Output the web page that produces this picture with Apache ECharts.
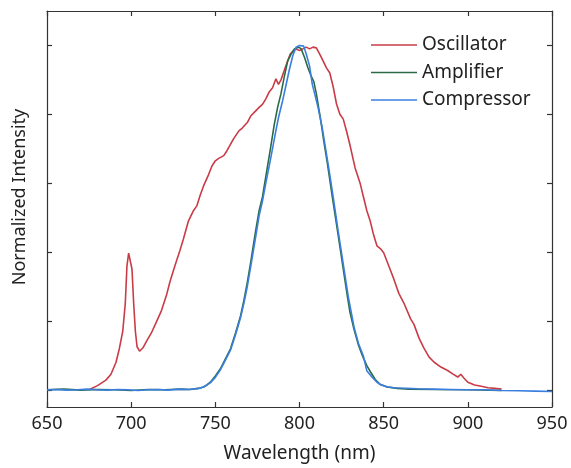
<!DOCTYPE html>
<html>
<head>
<meta charset="utf-8">
<script src="https://cdn.jsdelivr.net/npm/echarts@6/dist/echarts.min.js"></script>
<style>html,body{margin:0;padding:0;background:#fff;}#c{width:571px;height:468px;}</style>
</head>
<body>
<div id="c"></div>
<script>
// Oscillator
const oscX = [675,680,685,688,691,693,695,696.5,697.5,698.5,699.5,700.5,701.5,702.5,703.5,705,707,709,712,715,718,721,723,726,729,731,734,737,739,741,743,746,748,750,752,755,757,759,761,764,766,769,771,774,776,778,780,782,784,786,787.5,789,791.5,794.5,797.5,800,802,804,806,808,810,812,814,816,818,820,822,824,826,828,830,833,836,838,840,842,844,846,848,850,853,856,859,862,866,868,871,874,877,880,884,888,891,894,895.8,897.5,900,904,908,912,916,920];
const oscY = [0.0,0.012,0.028,0.045,0.08,0.12,0.17,0.25,0.36,0.397,0.395,0.35,0.25,0.17,0.125,0.112,0.122,0.14,0.165,0.197,0.23,0.275,0.313,0.36,0.405,0.437,0.49,0.52,0.534,0.565,0.592,0.625,0.65,0.665,0.672,0.68,0.695,0.713,0.73,0.752,0.76,0.776,0.795,0.81,0.82,0.829,0.845,0.865,0.877,0.903,0.887,0.9,0.935,0.975,0.99,0.985,0.99,0.995,0.99,0.995,0.993,0.975,0.955,0.935,0.92,0.88,0.83,0.8,0.786,0.75,0.71,0.645,0.6,0.56,0.52,0.49,0.45,0.418,0.41,0.398,0.36,0.322,0.28,0.252,0.206,0.19,0.15,0.12,0.095,0.08,0.066,0.056,0.046,0.037,0.045,0.035,0.022,0.014,0.01,0.006,0.004,0.002];
// Amplifier
const ampX = [650,660,670,680,690,700,710,720,730,735,740,743,745,747,750,753,756,759,762,765,767,769,771,773.8,776,778,780,782.7,785,787,789,791,793,795,797,799.5,801,803,805,807,808.5,810,812.5,814.5,816.5,819.4,822.4,825.4,828.4,830,832.3,835,837.3,840,842.3,845,848,852,858,865,880,900,920];
const ampY = [0.0,0.002,-0.001,0.001,0.0,-0.002,0.001,0.0,0.002,0.001,0.004,0.008,0.014,0.022,0.04,0.061,0.09,0.119,0.165,0.215,0.26,0.312,0.37,0.457,0.52,0.56,0.62,0.699,0.77,0.82,0.86,0.91,0.955,0.975,0.99,0.995,0.99,0.965,0.935,0.91,0.895,0.86,0.786,0.72,0.66,0.563,0.467,0.37,0.273,0.225,0.177,0.13,0.1,0.07,0.051,0.03,0.015,0.008,0.004,0.002,0.001,0.0,-0.002];
// Compressor
const cmpX = [650,656,662,668,674,680,686,692,698,704,710,716,722,728,734,740,743,747,750,753,756,759,762,765,767,769,771,774,776,778,780,783,785.5,787.5,790,792,794,796,798,800,802.5,804,806,807.6,809,811,813.5,815.5,817.5,820,823,826,829,832.5,835,838,840,843,846,848.2,852,856,860,870,880,890,900,910,920,930,940,950];
const cmpY = [0.0,0.001,-0.001,0.0,0.002,0.0,-0.001,0.001,0.0,-0.002,0.0,0.001,-0.001,0.002,0.001,0.004,0.008,0.02,0.036,0.058,0.086,0.115,0.16,0.21,0.252,0.3,0.357,0.445,0.505,0.548,0.6,0.675,0.74,0.79,0.84,0.885,0.93,0.97,0.995,1.0,0.998,0.975,0.94,0.887,0.86,0.82,0.761,0.7,0.64,0.56,0.46,0.365,0.27,0.18,0.135,0.097,0.055,0.037,0.022,0.015,0.009,0.006,0.005,0.003,0.002,0.001,0.0,0.0,-0.002,-0.003,-0.004,-0.005];
const xTicks = [650,700,750,800,850,900,950];
const yTicks = [0,0.2,0.4,0.6,0.8,1.0];

const zip = (xs, ys) => xs.map((x, i) => [x, ys[i]]);
const FONT = 'Noto Sans';
const AX = '#333';
const chart = echarts.init(document.getElementById('c'), null, {renderer: 'canvas'});
const xCommon = {
  type: 'value', min: 650, max: 950, interval: 50,
  axisLine: {show: true, onZero: false, lineStyle: {color: AX, width: 1.2}},
  axisTick: {show: true, inside: true, length: 5, lineStyle: {color: AX, width: 1.2}},
  splitLine: {show: false}
};
const yCommon = {
  type: 'value', min: -0.05, max: 1.1,
  axisLine: {show: true, onZero: false, lineStyle: {color: AX, width: 1.2}},
  axisTick: {show: true, inside: true, length: 5, customValues: yTicks, lineStyle: {color: AX, width: 1.2}},
  axisLabel: {show: false},
  splitLine: {show: false}
};
chart.setOption({
  animation: false,
  backgroundColor: '#fff',
  grid: {left: 47, right: 19, top: 11, bottom: 60, containLabel: false},
  legend: {
    orient: 'vertical', left: 371, top: 35, padding: 0,
    icon: 'rect', itemWidth: 46, itemHeight: 1.6, itemGap: 7.5,
    textStyle: {fontFamily: FONT, fontSize: 19, color: '#222', lineHeight: 20},
    data: ['Oscillator', 'Amplifier', 'Compressor']
  },
  xAxis: [
    Object.assign({}, xCommon, {
      position: 'bottom',
      axisLabel: {show: true, margin: 8, fontFamily: FONT, fontSize: 18, color: '#222', customValues: xTicks},
      name: 'Wavelength (nm)', nameLocation: 'middle', nameGap: 37,
      nameTextStyle: {fontFamily: FONT, fontSize: 19, color: '#222'}
    }),
    Object.assign({}, xCommon, {position: 'top', axisLabel: {show: false}})
  ],
  yAxis: [
    Object.assign({}, yCommon, {position: 'left'}),
    Object.assign({}, yCommon, {position: 'right'})
  ],
  graphic: [{
    type: 'text', x: 11, y: 197, rotation: Math.PI / 2,
    style: {text: 'Normalized Intensity', fontFamily: FONT, fontSize: 18, fill: '#222', align: 'center', verticalAlign: 'top'}
  }],
  series: [
    {name: 'Oscillator', type: 'line', data: zip(oscX, oscY), symbol: 'none', showSymbol: false,
     lineStyle: {color: '#c93c47', width: 1.6}, itemStyle: {color: '#c93c47'}, xAxisIndex: 0, yAxisIndex: 0},
    {name: 'Amplifier', type: 'line', data: zip(ampX, ampY), symbol: 'none', showSymbol: false,
     lineStyle: {color: '#2a6b45', width: 1.6}, itemStyle: {color: '#2a6b45'}, xAxisIndex: 0, yAxisIndex: 0},
    {name: 'Compressor', type: 'line', data: zip(cmpX, cmpY), symbol: 'none', showSymbol: false,
     lineStyle: {color: '#3a7fe0', width: 1.6}, itemStyle: {color: '#3a7fe0'}, xAxisIndex: 0, yAxisIndex: 0}
  ]
});
</script>
</body>
</html>
